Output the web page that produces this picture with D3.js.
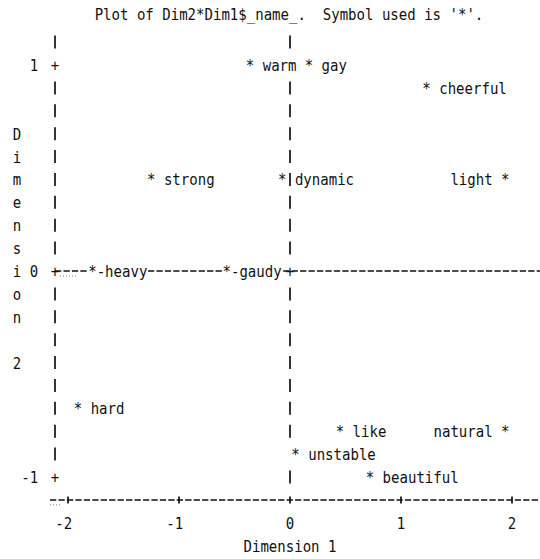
<html>
  <head>
    <meta charset="utf-8"/>
    <style>
      body { margin: 0; background: #fff; }
      text { font-family: "DejaVu Sans Mono", monospace; font-size: 16px; fill: #111; white-space: pre; }
    </style>
  </head>
  <body>
    <svg></svg>
  </body>
  <script src="https://d3js.org/d3.v7.min.js"></script>
  <script>
  // word points
  var names = ["warm", "gay", "cheerful", "strong", "dynamic", "light", "heavy",
               "gaudy", "hard", "like", "natural", "unstable", "beautiful"];
  var dim1 = [-0.36, 0.17, 1.23, -1.25, -0.07, 1.94, -1.78, -0.57, -1.91, 0.45, 1.94, 0.05, 0.72];
  var dim2 = [1.0, 1.0, 0.89, 0.44, 0.44, 0.44, 0.0, 0.0, -0.67, -0.78, -0.78, -0.89, -1.0];
  var xTicks = [-2, -1, 0, 1, 2];
  var yTicks = [1, 0, -1];
  var title = "Plot of Dim2*Dim1$_name_.  Symbol used is '*'.";
  var xTitle = "Dimension 1";
  var yTitle = "Dimension 2";

  var W = 540, H = 559;
  var cw = 8.45;          // width of one printer column
  var sx = cw / (0.602 * 16);
  var rowsPerUnit = 9;

  var svg = d3.select("svg").attr("width", W).attr("height", H);

  var x = d3.scaleLinear().domain([-2, 2]).range([68, 512]);
  var y = d3.scaleLinear().domain([-1, 1]).range([477, 65]);
  var rowPx = (y(0) - y(1)) / rowsPerUnit;
  var leftX = 55;
  var axisY = y(-1) + rowPx;

  // monospace text squeezed to the column width
  function put(str, px, py, anchor) {
    var w = str.length * cw;
    var x0 = anchor == "end" ? px - w : anchor == "middle" ? px - w / 2 : px;
    svg.append("text")
      .attr("xml:space", "preserve")
      .attr("transform", "translate(" + x0 + "," + (py + 6) + ") scale(" + sx + ",1)")
      .text(str);
    return [x0, x0 + w];
  }
  function bar(px, py, h) {
    h = h || 6.5;
    svg.append("line")
      .attr("x1", px).attr("x2", px)
      .attr("y1", py - h).attr("y2", py + h)
      .attr("stroke", "#111").attr("stroke-width", 1.7);
  }
  function dashes(x1, x2, py) {
    svg.append("line")
      .attr("x1", x1).attr("x2", x2).attr("y1", py).attr("y2", py)
      .attr("stroke", "#111").attr("stroke-width", 1.5)
      .attr("stroke-dasharray", "6.3,2.15");
  }
  // faint scan specks under the printed lines
  function specks(x1, x2, py) {
    svg.append("line")
      .attr("x1", x1).attr("x2", x2).attr("y1", py).attr("y2", py)
      .attr("stroke", "#777").attr("stroke-width", 1)
      .attr("stroke-dasharray", "1,2");
  }

  put(title, 289, 14, "middle");

  var rows = d3.range(-rowsPerUnit, rowsPerUnit + 2).map(function(k) { return k / rowsPerUnit; });

  // zero reference line and bottom axis line
  dashes(leftX, W, y(0));
  dashes(50, W, axisY);
  specks(60, 78, y(0) + 5);
  specks(252, 282, y(0) + 5);
  specks(50, 62, axisY + 5);

  // point labels
  var spans = [];
  names.forEach(function(n, i) {
    var px = x(dim1[i]), py = y(Math.round(dim2[i] * rowsPerUnit) / rowsPerUnit);
    var onZero = Math.abs(dim2[i]) < 0.5 / rowsPerUnit;
    var str = "*" + (onZero ? "-" : " ") + n;
    var s;
    if (px + str.length * cw > W - 4) {
      str = n + " *";
      s = [px + cw / 2 - str.length * cw, px + cw / 2];
    } else {
      s = [px - cw / 2, px - cw / 2 + str.length * cw];
    }
    if (onZero) {
      svg.append("rect").attr("x", s[0]).attr("y", py - 8)
        .attr("width", s[1] - s[0]).attr("height", 16).attr("fill", "#fff");
    }
    put(str, s[0], py, "start");
    spans.push({ y: py, s: s, star: px });
  });

  // left axis
  rows.forEach(function(v) {
    var k = Math.round(v * rowsPerUnit);
    if (k % rowsPerUnit == 0) {
      put("+", leftX, y(v), "middle");
      put(String(k / rowsPerUnit), leftX - 2 * cw, y(v), "end");
    } else bar(leftX, y(v));
  });

  // vertical reference line at 0
  rows.forEach(function(v) {
    var py = y(v);
    if (Math.abs(v) < 1e-9) { put("+", x(0), py, "middle"); return; }
    var blocked = spans.some(function(d) {
      if (Math.abs(d.y - py) > 1) return false;
      if (Math.abs(d.star + cw - x(0)) < cw * 0.6) return false;
      return d.s[0] < x(0) + 2 && d.s[1] > x(0) - 2;
    });
    if (!blocked) bar(x(0), py);
  });

  // bottom axis
  xTicks.forEach(function(t) {
    bar(x(t), axisY, 3.5);
    put(String(t), x(t) - (t < 0 ? cw / 2 : 0), axisY + rowPx, "middle");
  });
  put(xTitle, x(0), axisY + 2 * rowPx, "middle");

  // vertical title, one letter per row
  yTitle.split("").forEach(function(c, i) {
    put(c, 17, y(1 - (3 + i) / rowsPerUnit), "middle");
  });
  </script>
</html>
